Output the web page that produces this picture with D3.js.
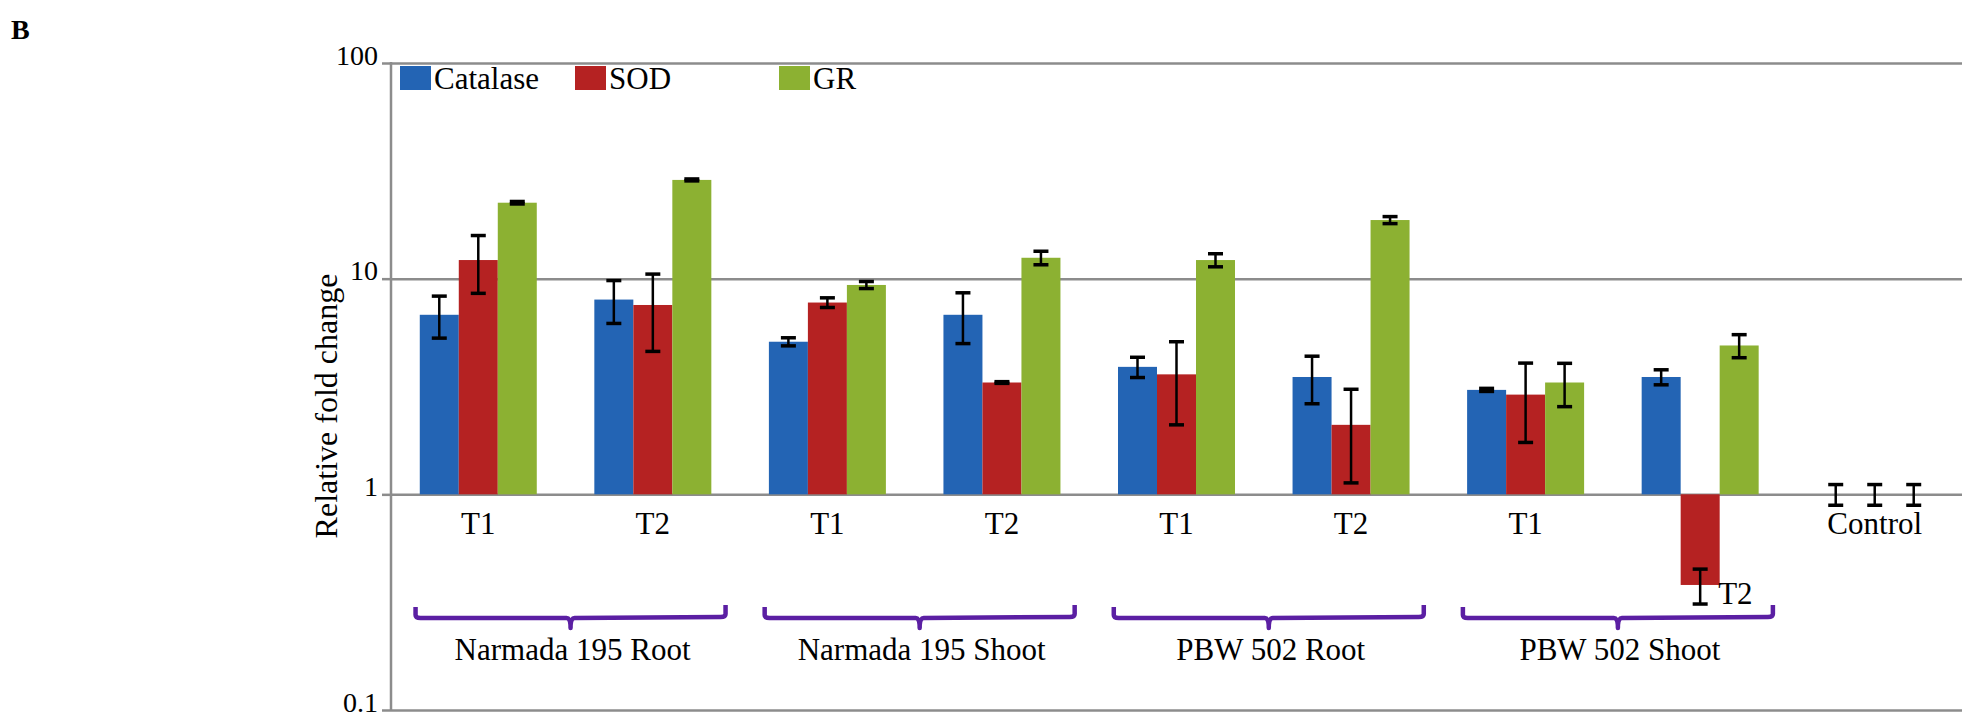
<!DOCTYPE html>
<html>
<head>
<meta charset="utf-8">
<script src="https://cdn.jsdelivr.net/npm/d3@7"></script>
<style>
  html, body { margin: 0; padding: 0; background: #fff; }
  svg { display: block; }
  text { font-family: "Liberation Serif", "Times New Roman", serif; fill: #000; }
</style>
</head>
<body>
<svg id="chart" width="1964" height="721"></svg>
<script>
// categories along the x axis
const categories = [
  'N195 Root T1', 'N195 Root T2', 'N195 Shoot T1', 'N195 Shoot T2',
  'PBW502 Root T1', 'PBW502 Root T2', 'PBW502 Shoot T1', 'PBW502 Shoot T2', 'Control'
];
const tickLabels = ['T1', 'T2', 'T1', 'T2', 'T1', 'T2', 'T1', 'T2', 'Control'];
const seriesNames = ['Catalase', 'SOD', 'GR'];

// relative fold change and error
const catalase    = [6.8, 8.0, 5.1, 6.8, 3.9, 3.5, 3.05, 3.5, 1];
const catalaseErr = [1.5, 1.8, 0.22, 1.8, 0.42, 0.87, 0.05, 0.28, 0.11];
const sod         = [12.2, 7.55, 7.75, 3.3, 3.6, 2.1, 2.9, 0.38, 1];
const sodErr      = [3.65, 2.95, 0.4, 0.03, 1.5, 0.97, 1.16, 0.07, 0.11];
const gr          = [22.5, 28.7, 9.35, 12.5, 12.2, 18.7, 3.3, 4.9, 1];
const grErr       = [0.3, 0.3, 0.35, 0.9, 0.85, 0.7, 0.75, 0.6, 0.11];

const groupLabels = ['Narmada 195 Root', 'Narmada 195 Shoot', 'PBW 502 Root', 'PBW 502 Shoot'];
const groupFirst = [0, 2, 4, 6];
const yTicks = [0.1, 1, 10, 100];

const COLORS = ['#2364b4', '#b52222', '#8cb132'];
const GRID = '#8c8c8c';
const BRACKET = '#5b1fa3';
const PLOT = { left: 391, right: 1962, top: 63, bottom: 710 };
const LEGEND_X = [400, 575, 779];

const values = [catalase, sod, gr];
const errors = [catalaseErr, sodErr, grErr];

const svg = d3.select('#chart');

const x = d3.scaleBand().domain(categories).range([PLOT.left, PLOT.right]);
const groupWidth = 117;
const xs = d3.scaleBand().domain(seriesNames).range([0, groupWidth]);
const offset = (x.bandwidth() - groupWidth) / 2;
const y = d3.scaleLog().domain([0.1, 100]).range([PLOT.bottom, PLOT.top]);

// gridlines + left ticks
const yAxisG = svg.append('g')
  .attr('transform', `translate(${PLOT.left},0)`)
  .call(d3.axisLeft(y).tickValues(yTicks).tickSize(9).tickPadding(4).tickFormat(d3.format('')));
yAxisG.select('.domain').remove();
yAxisG.selectAll('line').attr('stroke', GRID).attr('stroke-width', 2.5);
yAxisG.selectAll('text').attr('font-size', 28).attr('dy', '0.04em');
yAxisG.selectAll('.tick').append('line')
  .attr('x1', 0).attr('x2', PLOT.right - PLOT.left)
  .attr('stroke', GRID).attr('stroke-width', 2.5);

svg.append('line')
  .attr('x1', PLOT.left).attr('x2', PLOT.left)
  .attr('y1', PLOT.top - 1).attr('y2', PLOT.bottom + 1)
  .attr('stroke', GRID).attr('stroke-width', 2.5);

// bars
const barData = [];
categories.forEach((c, i) => {
  seriesNames.forEach((s, j) => {
    barData.push({ cat: c, series: s, idx: j, value: values[j][i], err: errors[j][i] });
  });
});

const barX = (d) => x(d.cat) + offset + xs(d.series);

svg.append('g').selectAll('rect')
  .data(barData.filter((d) => d.value !== 1))
  .join('rect')
  .attr('x', barX)
  .attr('width', xs.bandwidth())
  .attr('y', (d) => y(Math.max(d.value, 1)))
  .attr('height', (d) => Math.abs(y(d.value) - y(1)))
  .attr('fill', (d) => COLORS[d.idx]);

// error bars
const errG = svg.append('g').attr('stroke', '#000');
const eb = errG.selectAll('g').data(barData).join('g')
  .attr('transform', (d) => `translate(${barX(d) + xs.bandwidth() / 2},0)`);
eb.append('line')
  .attr('y1', (d) => y(d.value + d.err)).attr('y2', (d) => y(d.value - d.err))
  .attr('stroke-width', 2.5);
eb.append('line')
  .attr('x1', -7.5).attr('x2', 7.5)
  .attr('y1', (d) => y(d.value + d.err)).attr('y2', (d) => y(d.value + d.err))
  .attr('stroke-width', 3.5);
eb.append('line')
  .attr('x1', -7.5).attr('x2', 7.5)
  .attr('y1', (d) => y(d.value - d.err)).attr('y2', (d) => y(d.value - d.err))
  .attr('stroke-width', 3.5);

// category labels
const xAxisG = svg.append('g')
  .attr('transform', `translate(0,${y(1)})`)
  .call(d3.axisBottom(x).tickSize(0).tickPadding(18).tickFormat((d, i) => tickLabels[i]));
xAxisG.select('.domain').remove();
xAxisG.selectAll('text').attr('font-size', 31);
// the PBW 502 Shoot T2 label sits next to the negative bar
xAxisG.selectAll('.tick').filter((d, i) => i === 7).select('text')
  .attr('text-anchor', 'start')
  .attr('x', 18)
  .attr('dy', 0)
  .attr('y', y(sod[7] - sodErr[7]) - y(1));

// brackets
const bracketY = 618;
groupLabels.forEach((label, g) => {
  const c0 = categories[groupFirst[g]];
  const c1 = categories[groupFirst[g] + 1];
  const mid = (x(c0) + x(c1) + x.bandwidth()) / 2 + 5;
  const half = 155;
  const x0 = mid - half;
  const x1 = mid + half;
  const p = d3.path();
  p.moveTo(x0, bracketY - 11);
  p.lineTo(x0, bracketY - 3);
  p.quadraticCurveTo(x0, bracketY, x0 + 5, bracketY);
  p.lineTo(mid - 4, bracketY);
  p.quadraticCurveTo(mid, bracketY, mid, bracketY + 10);
  p.quadraticCurveTo(mid, bracketY, mid + 4, bracketY);
  p.lineTo(x1 - 5, bracketY - 1);
  p.quadraticCurveTo(x1, bracketY - 1, x1, bracketY - 4);
  p.lineTo(x1, bracketY - 13);
  svg.append('path')
    .attr('d', p.toString())
    .attr('fill', 'none')
    .attr('stroke', BRACKET)
    .attr('stroke-width', 4.5)
    .attr('stroke-linejoin', 'round');
  svg.append('text')
    .attr('x', mid + 2)
    .attr('y', 660)
    .attr('text-anchor', 'middle')
    .attr('font-size', 31)
    .text(label);
});

// legend
seriesNames.forEach((s, i) => {
  svg.append('rect')
    .attr('x', LEGEND_X[i]).attr('y', 66)
    .attr('width', 31).attr('height', 24)
    .attr('fill', COLORS[i]);
  svg.append('text')
    .attr('x', LEGEND_X[i] + 34).attr('y', 89)
    .attr('font-size', 31)
    .text(s);
});

// axis title
svg.append('text')
  .attr('transform', 'translate(337,406) rotate(-90)')
  .attr('text-anchor', 'middle')
  .attr('font-size', 32)
  .text('Relative fold change');

// panel letter
svg.append('text')
  .attr('x', 11).attr('y', 39)
  .attr('font-size', 28)
  .attr('font-weight', 'bold')
  .text('B');
</script>
</body>
</html>
